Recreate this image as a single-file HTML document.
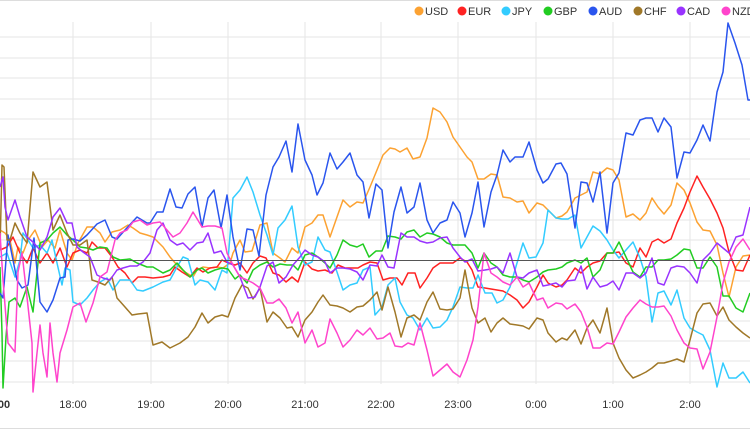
<!DOCTYPE html>
<html><head><meta charset="utf-8"><style>
html,body{margin:0;padding:0;background:#fff;}
svg{display:block;font-family:"Liberation Sans",Arial,sans-serif;}
</style></head><body>
<svg width="750" height="430" viewBox="0 0 750 430" xmlns="http://www.w3.org/2000/svg">
<rect x="0" y="0" width="750" height="430" fill="#fff"/>
<line x1="0" y1="0.5" x2="750" y2="0.5" stroke="#ddd"/>
<line x1="0" y1="428.5" x2="750" y2="428.5" stroke="#ddd"/>
<g stroke="#e6e6e6" stroke-width="1">
<line x1="0" y1="37" x2="750" y2="37"/><line x1="0" y1="58" x2="750" y2="58"/><line x1="0" y1="78" x2="750" y2="78"/><line x1="0" y1="99" x2="750" y2="99"/><line x1="0" y1="119" x2="750" y2="119"/><line x1="0" y1="139" x2="750" y2="139"/><line x1="0" y1="159" x2="750" y2="159"/><line x1="0" y1="179" x2="750" y2="179"/><line x1="0" y1="200" x2="750" y2="200"/><line x1="0" y1="220" x2="750" y2="220"/><line x1="0" y1="240" x2="750" y2="240"/><line x1="0" y1="281" x2="750" y2="281"/><line x1="0" y1="301" x2="750" y2="301"/><line x1="0" y1="321" x2="750" y2="321"/><line x1="0" y1="341" x2="750" y2="341"/><line x1="0" y1="361" x2="750" y2="361"/><line x1="0" y1="382" x2="750" y2="382"/>
<line x1="73" y1="22" x2="73" y2="384"/><line x1="151" y1="22" x2="151" y2="384"/><line x1="228" y1="22" x2="228" y2="384"/><line x1="305" y1="22" x2="305" y2="384"/><line x1="381" y1="22" x2="381" y2="384"/><line x1="458" y1="22" x2="458" y2="384"/><line x1="536" y1="22" x2="536" y2="384"/><line x1="613" y1="22" x2="613" y2="384"/><line x1="690" y1="22" x2="690" y2="384"/>
</g>
<g fill="none" stroke-width="1.5" stroke-linejoin="round">
<polyline stroke="#fca232" points="0,230 5,233 10,240 15,263 18,247 23,253 28,240 35,230 42,247 48,240 55,248 60,230 67,253 72,260 78,243 87,227 93,227 100,233 105,242 112,232 120,230 128,225 133,228 140,233 147,235 153,237 163,247 170,257 177,265 185,272 193,277 197,270 203,267 210,268 217,267 223,268 230,263 233,253 240,240 245,252 252,251 260,225 267,223 273,253 280,258 285,262 292,248 298,253 305,227 312,223 318,215 323,215 330,237 337,217 343,200 350,207 357,202 363,203 370,187 377,170 383,155 390,148 395,149 400,152 407,148 413,159 420,157 427,138 433,108 440,112 447,122 453,137 460,147 467,157 472,162 478,179 484,179 491,174 497,175 503,197 510,198 517,202 523,201 529,213 537,203 543,205 548,210 556,218 562,216 567,212 575,198 581,195 587,192 593,172 600,174 607,168 613,170 619,180 626,217 633,214 640,220 646,213 652,198 658,207 664,214 671,205 677,183 684,190 690,203 697,222 703,230 710,231 717,245 723,273 729,297 736,267 743,256 750,255"/>
<polyline stroke="#ff2222" points="0,250 7,247 13,237 20,253 27,263 33,248 40,263 47,253 53,263 60,248 67,267 73,253 80,250 87,253 92,242 98,248 105,248 112,257 118,267 125,273 132,283 138,277 145,277 153,278 163,277 170,275 175,267 182,272 190,277 197,268 203,272 210,268 217,267 222,260 228,263 235,265 240,263 247,273 253,263 260,256 266,258 273,273 279,275 286,282 292,277 298,282 305,262 312,269 318,271 325,270 332,273 338,265 345,268 352,268 358,268 363,265 370,262 377,263 383,280 390,278 397,278 402,285 408,273 415,273 420,288 427,278 433,268 440,263 447,263 453,263 460,258 467,262 472,270 478,287 485,288 491,289 497,290 503,291 510,295 517,300 523,308 529,302 537,287 543,275 548,283 556,287 562,285 567,280 575,268 581,273 587,267 593,263 600,261 607,253 613,253 619,252 626,263 633,267 640,248 646,257 652,242 658,239 664,243 671,239 677,223 684,208 690,192 697,176 703,187 710,199 717,213 723,228 729,252 736,270 743,271 750,255"/>
<polyline stroke="#33ccff" points="0,257 7,253 15,277 20,260 23,233 28,240 33,248 40,245 47,253 52,240 57,263 62,285 65,268 70,270 73,302 80,305 87,298 93,290 100,282 107,278 113,290 120,280 130,280 137,290 143,291 153,287 163,282 170,280 177,267 183,257 188,259 195,285 200,280 208,282 215,290 222,270 227,273 233,198 240,190 247,177 253,192 260,215 267,235 273,255 278,228 285,220 292,206 298,247 305,265 312,262 318,237 325,250 330,252 337,272 343,290 350,285 357,283 363,270 370,267 375,315 382,307 388,285 395,278 400,302 407,315 413,318 420,330 427,318 433,328 440,327 447,320 453,307 460,287 467,288 473,288 478,275 485,293 492,293 497,303 503,300 510,287 517,263 523,243 529,258 536,257 543,243 548,210 556,218 562,219 568,219 575,215 581,248 587,237 593,226 600,231 607,240 613,250 619,258 626,250 633,242 640,258 646,277 652,322 658,293 664,291 671,305 677,290 684,318 690,328 697,332 703,335 710,350 717,387 723,363 729,378 736,378 743,372 750,383"/>
<polyline stroke="#22cc22" points="0,267 2,333 3,388 6,337 9,302 15,298 20,307 27,287 33,312 40,243 47,240 53,233 60,227 67,235 73,240 80,247 87,248 93,250 100,247 107,248 113,257 120,260 130,259 137,263 147,267 153,267 163,273 170,270 177,263 183,270 190,277 197,270 202,268 208,273 215,270 222,268 228,269 235,279 240,275 247,283 253,270 260,265 267,262 273,267 280,264 287,265 293,265 298,270 305,255 312,253 318,257 325,263 330,268 337,255 343,240 350,245 357,247 363,244 369,257 376,251 382,251 388,236 395,237 401,239 407,232 414,230 420,237 427,233 433,234 440,237 447,243 453,245 460,245 465,245 472,253 478,268 484,253 491,263 497,267 503,275 510,277 517,277 523,280 529,282 537,277 543,272 548,270 556,269 562,267 567,263 575,260 581,263 587,258 593,277 600,270 607,253 613,253 619,242 626,257 633,272 640,277 646,267 652,267 658,260 664,260 671,259 677,255 684,249 690,250 697,268 703,268 710,257 717,267 723,296 729,296 736,308 743,312 750,293"/>
<polyline stroke="#2a55ee" points="0,293 3,298 8,235 17,280 22,288 28,285 34,238 40,302 47,312 53,300 60,278 65,277 68,240 73,239 80,241 87,235 97,224 105,220 112,237 117,239 125,230 137,217 147,223 150,223 157,212 163,212 170,189 176,207 182,208 188,194 195,187 202,227 208,198 214,190 221,228 227,195 233,237 240,270 247,229 253,230 259,256 266,195 273,167 279,157 286,141 292,172 298,124 305,160 312,175 317,195 323,183 330,153 337,169 343,162 350,153 357,175 363,182 369,218 376,184 382,190 388,248 394,212 401,187 407,213 414,207 420,183 427,220 433,233 440,223 447,220 453,202 460,213 465,237 472,213 478,182 484,227 491,192 497,175 503,150 510,162 515,157 523,157 529,142 537,170 543,183 548,179 556,164 561,163 567,174 575,228 581,182 587,183 593,202 600,172 607,233 613,183 619,173 626,133 633,135 640,120 646,118 652,118 658,132 664,118 671,127 677,178 684,152 690,153 697,140 703,125 710,141 717,92 723,72 728,23 735,43 742,65 748,100 750,100"/>
<polyline stroke="#a07828" points="0,250 2,165 4,167 7,240 10,240 15,223 20,233 27,243 33,172 40,187 47,182 53,230 60,215 67,233 73,245 80,245 87,240 92,280 98,282 105,285 112,277 117,298 125,307 132,315 138,314 147,313 153,345 162,342 170,348 180,343 188,337 195,327 202,313 208,323 215,317 222,315 228,317 235,298 242,285 248,288 253,299 260,288 267,322 273,312 280,318 287,328 292,327 298,337 305,320 312,312 318,302 323,295 330,305 337,306 343,308 350,312 357,307 363,306 370,300 377,292 382,310 388,287 395,312 401,337 407,318 414,315 420,320 427,302 433,292 440,309 447,310 453,309 460,298 465,270 472,308 478,323 485,318 491,332 497,323 503,318 510,324 517,325 523,326 529,329 537,318 543,320 548,333 556,342 562,338 567,340 575,330 581,344 587,328 593,320 600,333 607,308 613,343 619,358 626,370 633,378 640,375 646,372 652,368 658,363 664,363 671,361 677,359 684,362 690,340 697,313 703,304 710,303 717,316 723,307 729,320 736,327 743,333 750,338"/>
<polyline stroke="#9933ff" points="0,187 3,177 5,207 8,220 15,200 20,217 27,237 33,242 40,250 47,237 53,217 60,208 67,223 72,223 77,247 83,252 90,257 97,275 103,278 110,280 117,270 123,268 130,266 137,266 143,262 150,253 157,230 163,223 170,240 177,245 183,243 190,250 197,243 203,242 208,233 214,253 221,251 227,262 233,265 240,277 248,298 255,297 260,287 267,266 273,262 279,283 286,277 293,265 300,257 305,250 312,255 318,257 325,262 330,273 337,268 343,268 350,269 357,272 363,280 370,265 377,266 382,255 388,267 394,268 401,233 407,237 414,237 420,241 427,243 433,242 440,238 447,237 453,248 460,257 465,262 472,259 478,271 485,270 491,269 497,267 503,273 510,253 517,277 523,278 529,273 537,270 543,286 548,285 556,283 562,287 567,281 575,280 581,266 587,289 593,277 600,287 607,285 613,281 619,290 626,273 633,273 640,278 646,273 652,258 658,283 664,285 671,268 677,266 684,267 690,273 697,283 703,260 710,253 717,243 723,248 729,253 736,237 743,235 750,207"/>
<polyline stroke="#ff44cc" points="0,233 3,280 8,343 15,352 18,272 22,253 27,297 32,343 33,392 37,353 40,325 43,353 47,377 50,323 53,353 57,382 60,353 67,330 73,307 80,303 86,322 93,303 100,277 107,272 115,240 120,233 127,230 133,222 140,220 147,225 153,223 160,222 167,230 173,237 180,233 187,223 193,212 202,227 208,226 215,226 222,228 227,253 233,265 240,277 247,280 253,283 260,288 267,303 273,303 279,299 286,308 292,323 298,312 305,343 312,330 318,347 325,343 330,319 337,333 343,347 350,340 357,330 363,335 370,328 377,339 383,338 390,333 395,346 402,347 408,343 414,345 420,323 427,350 433,376 440,370 447,364 453,372 460,377 467,360 473,340 478,307 484,253 491,273 497,277 503,282 510,285 517,277 523,287 529,283 537,300 543,298 548,308 556,303 562,304 567,309 575,304 581,312 587,327 593,348 600,348 607,343 613,344 619,332 626,317 633,308 640,300 646,304 652,307 658,307 664,306 671,316 677,330 684,343 690,348 697,349 703,369 710,352 717,317 723,283 729,262 736,247 743,239 750,250"/>
</g>
<line x1="0" y1="260.5" x2="750" y2="260.5" stroke="#555" stroke-width="1"/>
<g font-size="11" fill="#333" text-anchor="middle">
<text x="-4" y="408" font-weight="bold">17:00</text>
<text x="73" y="408">18:00</text><text x="151" y="408">19:00</text><text x="228" y="408">20:00</text><text x="305" y="408">21:00</text><text x="381" y="408">22:00</text><text x="458" y="408">23:00</text><text x="536" y="408">0:00</text><text x="613" y="408">1:00</text><text x="690" y="408">2:00</text>
</g>
<g font-size="11" fill="#333">
<circle cx="419" cy="11" r="4.5" fill="#fca232"/><text x="425" y="15">USD</text>
<circle cx="462" cy="11" r="4.5" fill="#ff2222"/><text x="468" y="15">EUR</text>
<circle cx="506" cy="11" r="4.5" fill="#33ccff"/><text x="512" y="15">JPY</text>
<circle cx="548" cy="11" r="4.5" fill="#22cc22"/><text x="554" y="15">GBP</text>
<circle cx="593" cy="11" r="4.5" fill="#2a55ee"/><text x="599" y="15">AUD</text>
<circle cx="638" cy="11" r="4.5" fill="#a07828"/><text x="644" y="15">CHF</text>
<circle cx="681" cy="11" r="4.5" fill="#9933ff"/><text x="687" y="15">CAD</text>
<circle cx="726" cy="11" r="4.5" fill="#ff44cc"/><text x="732" y="15">NZD</text>
</g>
</svg>
</body></html>
